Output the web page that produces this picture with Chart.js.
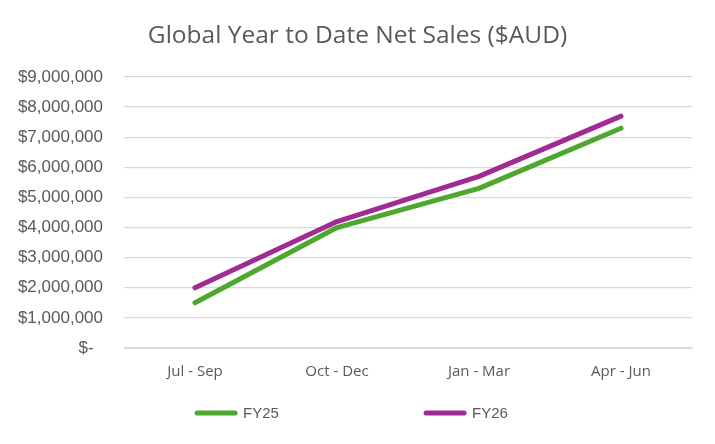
<!DOCTYPE html>
<html>
<head>
<meta charset="utf-8">
<script src="https://cdn.jsdelivr.net/npm/chart.js@4.4.0/dist/chart.umd.min.js"></script>
<style>
  html, body { margin: 0; padding: 0; background: #fff; }
  #wrap { width: 715px; height: 444px; }
</style>
</head>
<body>
<div id="wrap"><canvas id="c" width="715" height="444"></canvas></div>
<script>
const categories = ["Jul - Sep", "Oct - Dec", "Jan - Mar", "Apr - Jun"];
const fy25 = [1500000, 4000000, 5300000, 7300000];
const fy26 = [2000000, 4200000, 5700000, 7700000];
const seriesNames = ["FY25", "FY26"];
const seriesColors = ["#4EA72E", "#A02B93"];
const yMax = 9000000;
const yStep = 1000000;
const titleText = "Global Year to Date Net Sales ($AUD)";

const textColor = "#595959";

const decorPlugin = {
  id: "decor",
  afterDraw(chart) {
    const ctx = chart.ctx;
    ctx.save();
    // title
    ctx.font = "24.5px 'Open Sans', sans-serif";
    ctx.fillStyle = textColor;
    ctx.textAlign = "center";
    ctx.textBaseline = "middle";
    ctx.fillText(titleText, chart.width / 2, 36);
    // legend
    const y = 413;
    const lineLen = 42;
    const gap = 6;
    const spacing = 229;
    ctx.font = "15px 'Liberation Sans', Arial, sans-serif";
    ctx.textAlign = "left";
    const ds = chart.data.datasets;
    const lastW = ctx.measureText(ds[ds.length - 1].label).width;
    const total = spacing * (ds.length - 1) + lineLen + gap + lastW;
    let x = chart.width / 2 - total / 2 - 6;
    ds.forEach((d) => {
      ctx.strokeStyle = d.borderColor;
      ctx.lineWidth = 5;
      ctx.lineCap = "round";
      ctx.beginPath();
      ctx.moveTo(x + 2, y);
      ctx.lineTo(x + lineLen - 2, y);
      ctx.stroke();
      ctx.fillText(d.label, x + lineLen + gap, y + 1);
      x += spacing;
    });
    ctx.restore();
  }
};

new Chart(document.getElementById("c"), {
  type: "line",
  data: {
    labels: categories,
    datasets: [
      { label: seriesNames[0], data: fy25, borderColor: seriesColors[0], backgroundColor: seriesColors[0],
        borderWidth: 5, pointRadius: 0, tension: 0, borderCapStyle: "round", borderJoinStyle: "round" },
      { label: seriesNames[1], data: fy26, borderColor: seriesColors[1], backgroundColor: seriesColors[1],
        borderWidth: 5, pointRadius: 0, tension: 0, borderCapStyle: "round", borderJoinStyle: "round" }
    ]
  },
  options: {
    responsive: false,
    animation: false,
    devicePixelRatio: 1,
    layout: { padding: { left: 0, right: 23, top: 77, bottom: 48 } },
    plugins: {
      legend: { display: false },
      tooltip: { enabled: false },
      title: { display: false }
    },
    scales: {
      x: {
        offset: true,
        grid: { display: false, drawTicks: false },
        border: { display: true, color: "#D9D9D9", width: 1 },
        ticks: { color: textColor, font: { family: "'Open Sans', sans-serif", size: 15 }, padding: 15, maxRotation: 0 }
      },
      y: {
        min: 0, max: yMax,
        afterFit(scale) { scale.width = 124; },
        grid: { color: "#D9D9D9", lineWidth: 1.3, drawTicks: false },
        border: { display: false },
        ticks: {
          stepSize: yStep,
          color: textColor,
          padding: 21,
          font: { family: "Liberation Sans", size: 17 },
          callback: (v) => v === 0 ? "$-  " : "$" + v.toLocaleString("en-US")
        }
      }
    }
  },
  plugins: [decorPlugin]
});
</script>
</body>
</html>
